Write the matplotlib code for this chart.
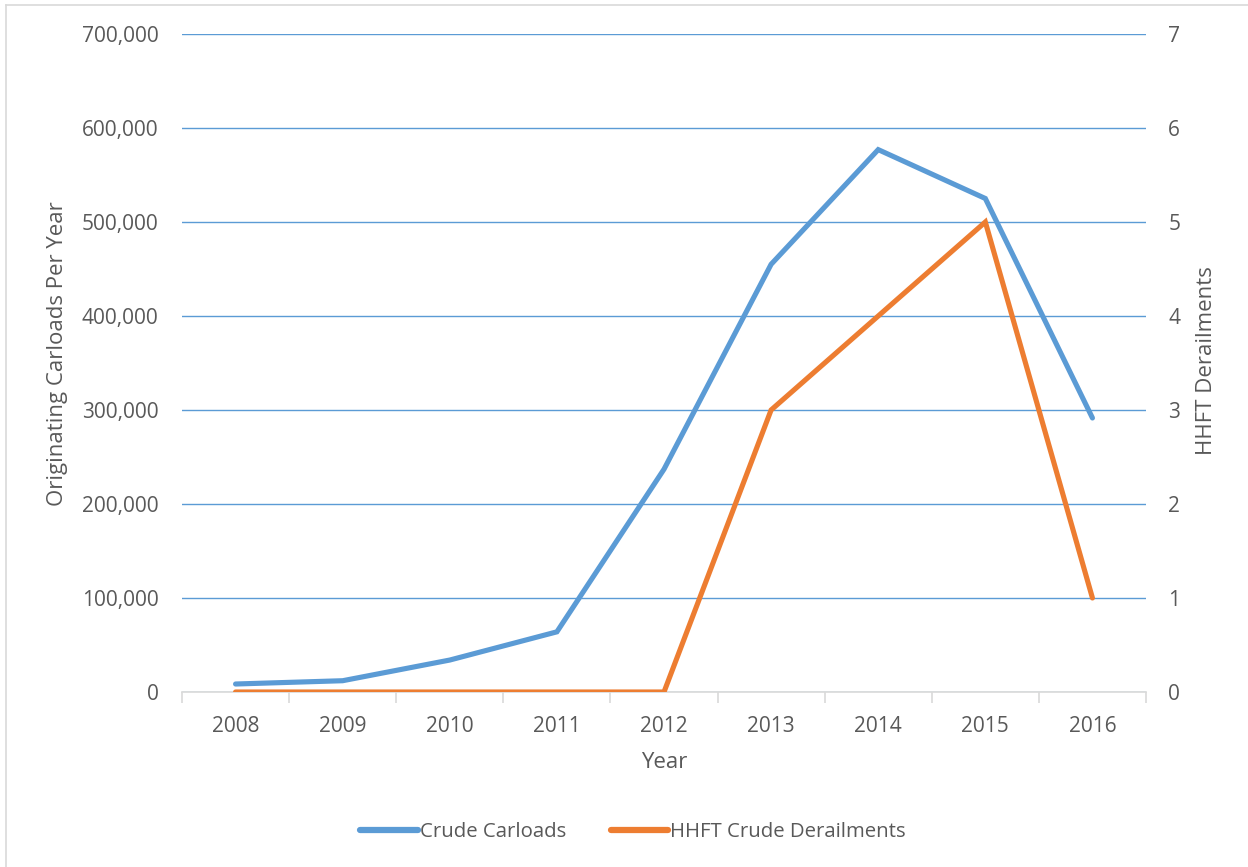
import matplotlib
matplotlib.use("Agg")
import matplotlib.pyplot as plt
from matplotlib.ticker import FuncFormatter, FixedLocator
from matplotlib.lines import Line2D

years = ["2008", "2009", "2010", "2011", "2012", "2013", "2014", "2015", "2016"]
carloads = [8500, 12000, 34000, 64000, 237000, 455000, 577000, 525000, 291500]
derailments = [0, 0, 0, 0, 0, 3, 4, 5, 1]
left_ticks = [0, 100000, 200000, 300000, 400000, 500000, 600000, 700000]
right_ticks = [0, 1, 2, 3, 4, 5, 6, 7]

BLUE = "#5B9BD5"
ORANGE = "#ED7D31"
TXT = "#595959"
W, H = 1248, 867

plt.rcParams['font.family'] = ['Open Sans', 'DejaVu Sans']
fig = plt.figure(figsize=(W / 100, H / 100), dpi=100)
ax = fig.add_axes([182 / W, 1 - 692 / H, (1146 - 182) / W, (692 - 34) / H])
ax2 = ax.twinx()

x = list(range(len(years)))
ax.plot(x, carloads, color=BLUE, lw=3.7, solid_capstyle='round', solid_joinstyle='miter', zorder=3)
ax2.plot(x, derailments, color=ORANGE, lw=3.7, solid_capstyle='round', solid_joinstyle='miter', zorder=3)

ax.set_xlim(-0.5, len(years) - 0.5)
ax.set_ylim(0, 700000)
ax2.set_ylim(0, 7)
ax.set_yticks(left_ticks)
ax2.set_yticks(right_ticks)
ax.yaxis.set_major_formatter(FuncFormatter(lambda v, p: f"{int(v):,}"))
ax.grid(axis='y', color=BLUE, lw=1.0, zorder=0)
ax.set_axisbelow(True)

ax.set_xticks(x)
ax.set_xticklabels(years)
ax.xaxis.set_minor_locator(FixedLocator([i - 0.5 for i in range(len(years) + 1)]))
ax.tick_params(axis='x', which='major', length=0, pad=17, labelsize=15, labelcolor=TXT)
ax.tick_params(axis='x', which='minor', length=8, width=1.2, color="#D9D9D9", direction='out')
ax.tick_params(axis='y', length=0, pad=17, labelsize=15, labelcolor=TXT)
ax2.tick_params(axis='y', length=0, pad=16, labelsize=15, labelcolor=TXT)

for a in (ax, ax2):
    for s in ('top', 'left', 'right'):
        a.spines[s].set_visible(False)
ax2.spines['bottom'].set_visible(False)
ax.spines['bottom'].set_color("#D9D9D9")
ax.spines['bottom'].set_linewidth(1.2)

fig.text(664 / W, 1 - 763 / H, "Year", ha='center', va='center', fontsize=16, color=TXT)
fig.text(57 / W, 1 - 354 / H, "Originating Carloads Per Year", ha='center', va='center',
         rotation=90, fontsize=16, color=TXT)
fig.text(1207 / W, 1 - 361 / H, "HHFT Derailments", ha='center', va='center',
         rotation=90, fontsize=16, color=TXT)

handles = [Line2D([], [], color=BLUE, lw=4.5, solid_capstyle='round'),
           Line2D([], [], color=ORANGE, lw=4.5, solid_capstyle='round')]
fig.legend(handles, ["Crude Carloads", "HHFT Crude Derailments"], loc='center',
           bbox_to_anchor=(633 / W, 1 - 832 / H), ncol=2, frameon=False,
           fontsize=14.7, labelcolor=TXT, handlelength=2.8, handletextpad=0.1, columnspacing=2.2)

# chart border (top and left edges visible)
fig.add_artist(Line2D([6 / W, 6 / W], [0, 1 - 5 / H], transform=fig.transFigure, color="#D9D9D9", lw=1.2))
fig.add_artist(Line2D([6 / W, 1], [1 - 5 / H, 1 - 5 / H], transform=fig.transFigure, color="#D9D9D9", lw=1.2))

fig.savefig("out.png", dpi=100, facecolor="white")
